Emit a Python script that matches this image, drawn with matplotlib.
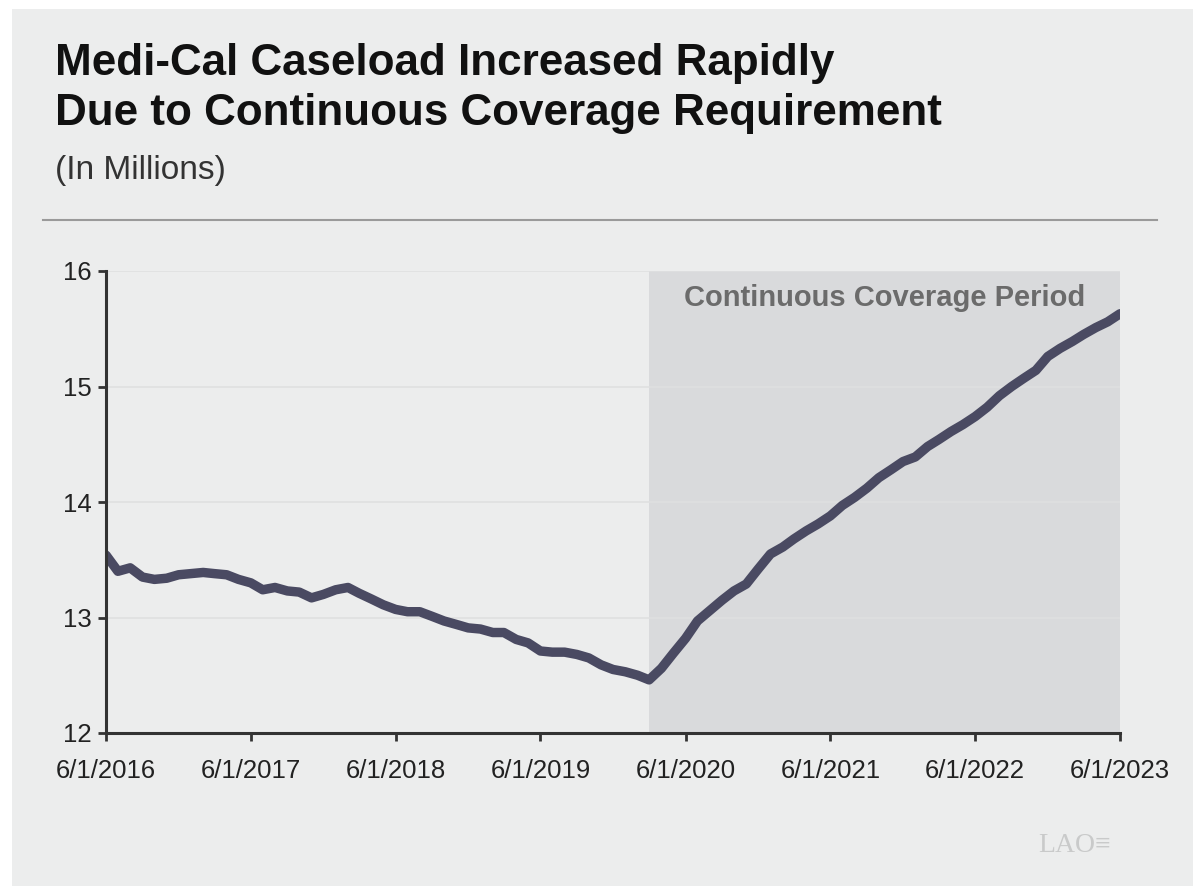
import matplotlib
matplotlib.use('Agg')
import matplotlib.pyplot as plt
from matplotlib.patches import Rectangle
from matplotlib.lines import Line2D
import pandas as pd

# Medi-Cal caseload, monthly, in millions
months = pd.date_range('2016-06-01', '2023-06-01', freq='MS')
caseload = [
    13.54, 13.40, 13.43, 13.35, 13.33, 13.34, 13.37, 13.38, 13.39, 13.38,
    13.37, 13.33, 13.30, 13.24, 13.26, 13.23, 13.22, 13.17, 13.20, 13.24,
    13.26, 13.21, 13.16, 13.11, 13.07, 13.05, 13.05, 13.01, 12.97, 12.94,
    12.91, 12.90, 12.87, 12.87, 12.81, 12.78, 12.71, 12.70, 12.70, 12.68,
    12.65, 12.59, 12.55, 12.53, 12.50, 12.46, 12.56, 12.69, 12.82, 12.97,
    13.06, 13.15, 13.23, 13.29, 13.42, 13.55, 13.61, 13.68, 13.75, 13.81,
    13.88, 13.97, 14.04, 14.12, 14.21, 14.28, 14.35, 14.39, 14.48, 14.54,
    14.61, 14.67, 14.74, 14.82, 14.92, 15.00, 15.07, 15.14, 15.26, 15.33,
    15.39, 15.45, 15.51, 15.56, 15.63,
]
period_start = '2020-03-01'
period_end = '2023-06-01'
tick_dates = ['2016-06-01', '2017-06-01', '2018-06-01', '2019-06-01',
              '2020-06-01', '2021-06-01', '2022-06-01', '2023-06-01']
tick_labels = ['6/1/2016', '6/1/2017', '6/1/2018', '6/1/2019',
               '6/1/2020', '6/1/2021', '6/1/2022', '6/1/2023']
y_ticks = [12, 13, 14, 15, 16]

plt.rcParams['font.family'] = ['Liberation Sans', 'DejaVu Sans']

W, H = 1193, 886
fig = plt.figure(figsize=(W / 100, H / 100), dpi=100, facecolor='white')

# light gray panel behind everything
fig.patches.append(Rectangle((12 / W, 0), 1, 1 - 9 / H, transform=fig.transFigure,
                             facecolor='#ECEDED', edgecolor='none', zorder=-5))

fig.text(55 / W, 1 - 63 / H, 'Medi-Cal Caseload Increased Rapidly',
         fontsize=31.7, fontweight='bold', color='#111111', va='center')
fig.text(55 / W, 1 - 114 / H, 'Due to Continuous Coverage Requirement',
         fontsize=31.7, fontweight='bold', color='#111111', va='center')
fig.text(55 / W, 1 - 171 / H, '(In Millions)',
         fontsize=24, color='#333333', va='center')
fig.lines.append(Line2D([43 / W, 1157 / W], [1 - 220 / H, 1 - 220 / H],
                        transform=fig.transFigure, color='#9A9A9A', lw=1.5))

ax = fig.add_axes([106 / W, 1 - 733 / H, (1120 - 106) / W, (733 - 271) / H])
ax.set_facecolor('none')

ax.axvspan(pd.Timestamp(period_start), pd.Timestamp(period_end),
           color='#D9DADC', zorder=1, lw=0)
for y in y_ticks[1:]:
    ax.axhline(y, color='#DFE0E0', lw=1.2, zorder=1.5)

ax.plot(months, caseload, color='#4A4A62', lw=6.8, solid_capstyle='round',
        solid_joinstyle='round', zorder=3)

ax.text(0.9655, 0.9416, 'Continuous Coverage Period', transform=ax.transAxes,
        fontsize=21, fontweight='bold', color='#6B6B6B', ha='right', va='center',
        zorder=4)

ax.set_xlim(pd.Timestamp('2016-06-01'), pd.Timestamp('2023-06-01'))
ax.set_ylim(12, 16)
ax.set_yticks(y_ticks)
ax.set_xticks([pd.Timestamp(d) for d in tick_dates])
ax.set_xticklabels(tick_labels)

for side in ['top', 'right']:
    ax.spines[side].set_visible(False)
for side in ['left', 'bottom']:
    ax.spines[side].set_color('#333333')
    ax.spines[side].set_linewidth(2.2)
    ax.spines[side].set_zorder(5)

ax.tick_params(axis='both', colors='#333333', labelcolor='#222222',
               labelsize=18.5, width=2, length=6, direction='out')
ax.tick_params(axis='y', pad=4)
ax.tick_params(axis='x', pad=13)

fig.text(1075 / W, 1 - 845 / H, 'LAO\u2261', family=['Liberation Serif', 'DejaVu Serif'],
         fontsize=20, color='#C9CACA', ha='center', va='center')

fig.savefig('out.png', dpi=100, facecolor='white')
